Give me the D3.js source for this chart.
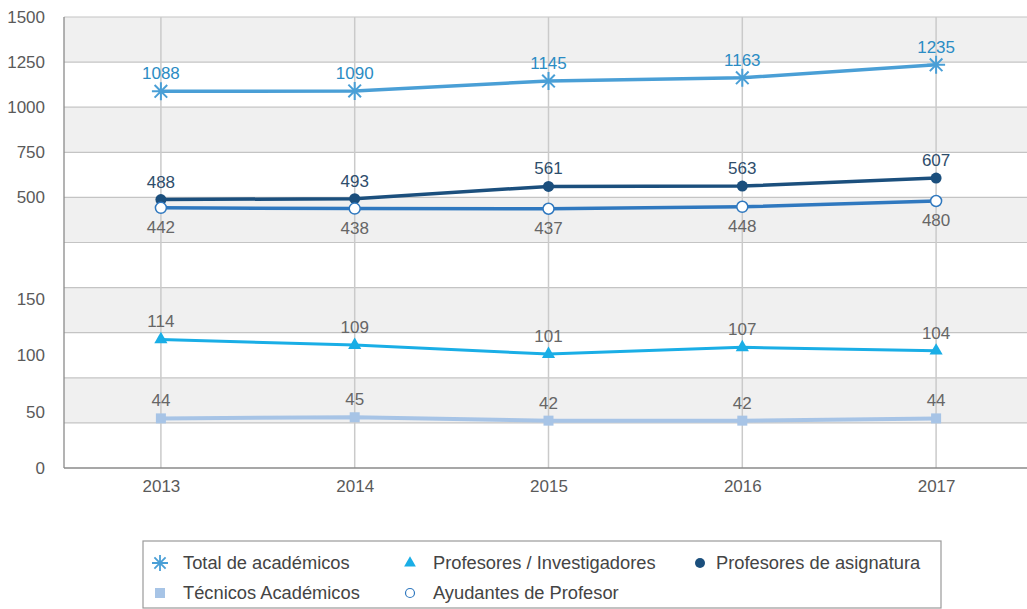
<!DOCTYPE html>
<html><head><meta charset="utf-8">
<script src="https://cdn.jsdelivr.net/npm/d3@7"></script>
<style>body{margin:0;background:#fff;} svg{display:block;font-family:"Liberation Sans",Arial,sans-serif;}</style>
</head><body>
<svg id="c" width="1027" height="609"></svg>
<script>
const years = ["2013","2014","2015","2016","2017"];
const total = [1088,1090,1145,1163,1235];
const asignatura = [488,493,561,563,607];
const ayudantes = [442,438,437,448,480];
const investigadores = [114,109,101,107,104];
const tecnicos = [44,45,42,42,44];
const topTicks = [500,750,1000,1250,1500];
const topGrid = [250,500,750,1000,1250,1500];
const botTicks = [0,50,100,150];
const botGrid = [0,40,80,120,160,200];

const FONT = "Liberation Sans, Arial, sans-serif";
const svg = d3.select("#c");
const L = 64, R = 1033, T = 17, B = 468, M = 242.5;
const x = d3.scalePoint().domain(years).range([L, R]).padding(0.5);
const yTop = d3.scaleLinear().domain([250,1500]).range([M, T]);
const yBot = d3.scaleLinear().domain([0,200]).range([B, M]);

// bands
const bands = [];
for (let i = 0; i < topGrid.length - 1; i++) bands.push({y0: yTop(topGrid[i+1]), y1: yTop(topGrid[i]), gray: (topGrid.length - 2 - i) % 2 === 0});
for (let i = 0; i < botGrid.length - 1; i++) bands.push({y0: yBot(botGrid[i+1]), y1: yBot(botGrid[i]), gray: i % 2 === 1});
svg.selectAll("rect.band").data(bands).join("rect")
  .attr("x", L).attr("width", 1027 - L)
  .attr("y", d => d.y0).attr("height", d => d.y1 - d.y0)
  .attr("fill", d => d.gray ? "#f0f0f0" : "#ffffff");

// horizontal grid
const gridYs = topGrid.map(v => yTop(v)).concat(botGrid.slice(1).map(v => yBot(v)));
svg.selectAll("line.hg").data(gridYs).join("line")
  .attr("x1", L).attr("x2", 1027).attr("y1", d => d).attr("y2", d => d)
  .attr("stroke", "#c4c4c4").attr("stroke-width", 1.2);
// vertical grid
svg.selectAll("line.vg").data(years).join("line")
  .attr("x1", d => x(d)).attr("x2", d => x(d)).attr("y1", T).attr("y2", B)
  .attr("stroke", "#cacaca").attr("stroke-width", 1.5);

// axes
svg.append("line").attr("x1", L).attr("x2", L).attr("y1", T).attr("y2", B).attr("stroke", "#8a8a8a").attr("stroke-width", 1.3);
svg.append("line").attr("x1", L).attr("x2", 1027).attr("y1", B).attr("y2", B).attr("stroke", "#8a8a8a").attr("stroke-width", 1.5);

const fmt = d3.format("d");
const gT = svg.append("g").attr("transform", `translate(${L - 16},0)`).call(d3.axisLeft(yTop).tickValues(topTicks).tickSize(0).tickFormat(fmt));
const gB = svg.append("g").attr("transform", `translate(${L - 16},0)`).call(d3.axisLeft(yBot).tickValues(botTicks).tickSize(0).tickFormat(fmt));
const gX = svg.append("g").attr("transform", `translate(0,${B})`).call(d3.axisBottom(x).tickSize(0).tickPadding(12));
[gT, gB, gX].forEach(g => {
  g.attr("font-size", null).attr("font-family", null);
  g.select(".domain").remove();
  g.selectAll("text").style("font-size", "17px").style("font-family", FONT).attr("fill", "#5a5a5a");
});

function series(vals, scale, color, width, labelColor, labelDy) {
  const pts = vals.map((v, i) => ({x: x(years[i]), y: scale(v), v}));
  svg.append("path").datum(pts).attr("fill", "none").attr("stroke", color).attr("stroke-width", width)
    .attr("d", d3.line().x(d => d.x).y(d => d.y));
  svg.append("g").selectAll("text").data(pts).join("text")
    .attr("x", d => d.x).attr("y", d => d.y + labelDy).attr("text-anchor", "middle")
    .style("font-size", "17px").attr("fill", labelColor).text(d => d.v);
  return pts;
}

// Técnicos
const pTec = series(tecnicos, yBot, "#a7c4e6", 4, "#666", -12);
svg.append("g").selectAll("rect").data(pTec).join("rect")
  .attr("x", d => d.x - 5).attr("y", d => d.y - 5).attr("width", 10).attr("height", 10).attr("fill", "#a7c4e6");
// Investigadores
const pInv = series(investigadores, yBot, "#1aaee6", 3, "#666", -12);
svg.append("g").selectAll("path").data(pInv).join("path")
  .attr("transform", d => `translate(${d.x},${d.y})`)
  .attr("d", d3.symbol().type(d3.symbolTriangle).size(75)).attr("fill", "#1aaee6");
// Ayudantes
const pAyu = series(ayudantes, yTop, "#2f78bf", 3.5, "#666", 25);
// Asignatura
const pAsi = series(asignatura, yTop, "#1b4f7d", 3.5, "#2e4d6b", -12);
svg.append("g").selectAll("circle").data(pAsi).join("circle")
  .attr("cx", d => d.x).attr("cy", d => d.y).attr("r", 5.5).attr("fill", "#1b4f7d");
svg.append("g").selectAll("circle").data(pAyu).join("circle")
  .attr("cx", d => d.x).attr("cy", d => d.y).attr("r", 5.5).attr("fill", "#fff").attr("stroke", "#2f78bf").attr("stroke-width", 1.5);
// Total
const pTot = series(total, yTop, "#4a9fd6", 3.5, "#2b8cc4", -12);
const ast = r => `M0,${-r}V${r}M${-r},0H${r}M${-r*0.7},${-r*0.7}L${r*0.7},${r*0.7}M${-r*0.7},${r*0.7}L${r*0.7},${-r*0.7}`;
svg.append("g").selectAll("path").data(pTot).join("path")
  .attr("transform", d => `translate(${d.x},${d.y})`).attr("d", ast(9))
  .attr("stroke", "#4a9fd6").attr("stroke-width", 2).attr("fill", "none");

// legend
const lg = svg.append("g");
lg.append("rect").attr("x", 143).attr("y", 541).attr("width", 798).attr("height", 67).attr("fill", "#fff").attr("stroke", "#9a9a9a").attr("stroke-width", 1.2);
const legendItems = [
  {name: "Total de académicos", x: 160, y: 563, kind: "ast"},
  {name: "Profesores / Investigadores", x: 410, y: 563, kind: "tri"},
  {name: "Profesores de asignatura", x: 700, y: 563, kind: "dot"},
  {name: "Técnicos Académicos", x: 160, y: 593, kind: "sq"},
  {name: "Ayudantes de Profesor", x: 410, y: 593, kind: "circ"}
];
legendItems.forEach(it => {
  const g = lg.append("g").attr("transform", `translate(${it.x},${it.y})`);
  if (it.kind === "ast") g.append("path").attr("d", ast(8)).attr("stroke", "#4a9fd6").attr("stroke-width", 1.8);
  if (it.kind === "tri") g.append("path").attr("d", d3.symbol().type(d3.symbolTriangle).size(60)).attr("fill", "#1aaee6");
  if (it.kind === "dot") g.append("circle").attr("r", 5).attr("fill", "#1b4f7d");
  if (it.kind === "sq") g.append("rect").attr("x", -5).attr("y", -5).attr("width", 10).attr("height", 10).attr("fill", "#a7c4e6");
  if (it.kind === "circ") g.append("circle").attr("r", 4.5).attr("fill", "#fff").attr("stroke", "#2f78bf").attr("stroke-width", 1.2);
  g.append("text").attr("x", it.kind === "dot" ? 16 : 23).attr("y", 6).style("font-size", "18.3px").attr("fill", "#444").text(it.name);
});
</script>
</body></html>
